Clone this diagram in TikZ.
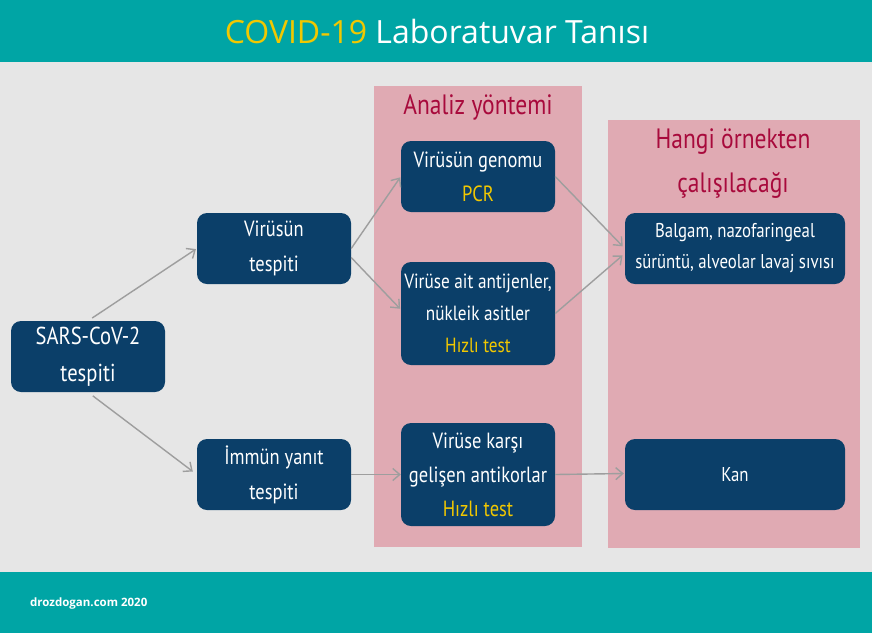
\documentclass[tikz,border=0pt]{standalone}
\usepackage{fontspec}
\newfontfamily\pts{PT Sans}[FakeStretch=0.84]
\newfontfamily\osans{Open Sans}
\usetikzlibrary{arrows.meta}
\definecolor{teal}{HTML}{00A5A5}
\definecolor{bgray}{HTML}{E6E6E6}
\definecolor{pinkp}{HTML}{E0AAB3}
\definecolor{navy}{HTML}{0B3F69}
\definecolor{ylw}{HTML}{F2C800}
\definecolor{crim}{HTML}{A80A3C}
\definecolor{arr}{HTML}{9E9E9E}
\tikzset{
  box/.style={rectangle, rounded corners=10pt, fill=navy, text=white, align=center,
    minimum width=154pt, minimum height=71pt, inner sep=0pt,
    font=\pts\fontsize{22}{35}\selectfont},
  box3/.style={box, minimum height=103pt, font=\pts\fontsize{20.5}{32}\selectfont},
  wbox/.style={box, minimum width=220pt, font=\pts\fontsize{20}{31}\selectfont},
  ptitle/.style={text=crim, align=center, inner sep=0pt, font=\pts\fontsize{28}{44}\selectfont},
  con/.style={draw=arr, line width=1.4pt, -{Straight Barb[length=7pt,width=12pt]}},
  panel/.style={fill=pinkp, draw=none}
}
\newcommand{\yl}[1]{\textcolor{ylw}{#1}}
\begin{document}
\begin{tikzpicture}[x=1pt,y=-1pt]
\useasboundingbox (0,0) rectangle (872,633);
\fill[bgray] (0,0) rectangle (872,633);
\fill[teal] (0,0) rectangle (872,62);
\fill[teal] (0,572) rectangle (872,633);
\node[font=\osans\fontsize{32}{36}\selectfont, text=white] (title) at (437,31) {\textcolor{ylw}{COVID-19} Laboratuvar Tanısı};
\node[font=\osans\bfseries\fontsize{11.5}{14}\selectfont, text=white, anchor=west, inner sep=0pt] (foot) at (30,603) {drozdogan.com 2020};
% panels
\fill[panel] (374,86) rectangle (582,547);
\fill[panel] (608,120) rectangle (860,548);
\node[ptitle] (t1) at (478,107) {Analiz yöntemi};
\node[ptitle] (t2) at (733,164) {Hangi örnekten\\çalışılacağı};
% nodes
\node[box, font=\pts\fontsize{24.5}{37}\selectfont] (sars) at (88,356.5) {SARS-CoV-2\\tespiti};
\node[box] (vt) at (274,248.5) {Virüsün\\tespiti};
\node[box] (im) at (274,474.5) {İmmün yanıt\\tespiti};
\node[box, font=\pts\fontsize{22}{34}\selectfont] (gen) at (478,176.5) {Virüsün genomu\\\yl{PCR}};
\node[box3] (ant) at (478,313.5) {Virüse ait antijenler,\\nükleik asitler\\\yl{Hızlı test}};
\node[box3, font=\pts\fontsize{22}{34}\selectfont] (kar) at (478,474.5) {Virüse karşı\\gelişen antikorlar\\\yl{Hızlı test}};
\node[wbox] (bal) at (735,248.5) {Balgam, nazofaringeal\\sürüntü, alveolar lavaj sıvısı};
\node[wbox] (kan) at (735,474.5) {Kan};
% connectors
\draw[con, shorten <=5pt, shorten >=1pt] (sars.north) -- (vt.west);
\draw[con, shorten <=6pt, shorten >=5pt] (sars.south) -- (im.west);
\draw[con, shorten >=1pt] (vt.east) -- (gen.west);
\draw[con, shorten >=1pt] ([yshift=-9pt]vt.east) -- ([yshift=4pt]ant.west);
\draw[con] (im.east) -- (kar.west);
\draw[con, shorten >=3pt] (gen.east) -- (bal.west);
\draw[con, shorten >=3pt] (ant.east) -- ([yshift=-5pt]bal.west);
\draw[con, shorten >=1pt] (kar.east) -- ([yshift=1pt]kan.west);
\end{tikzpicture}
\end{document}
